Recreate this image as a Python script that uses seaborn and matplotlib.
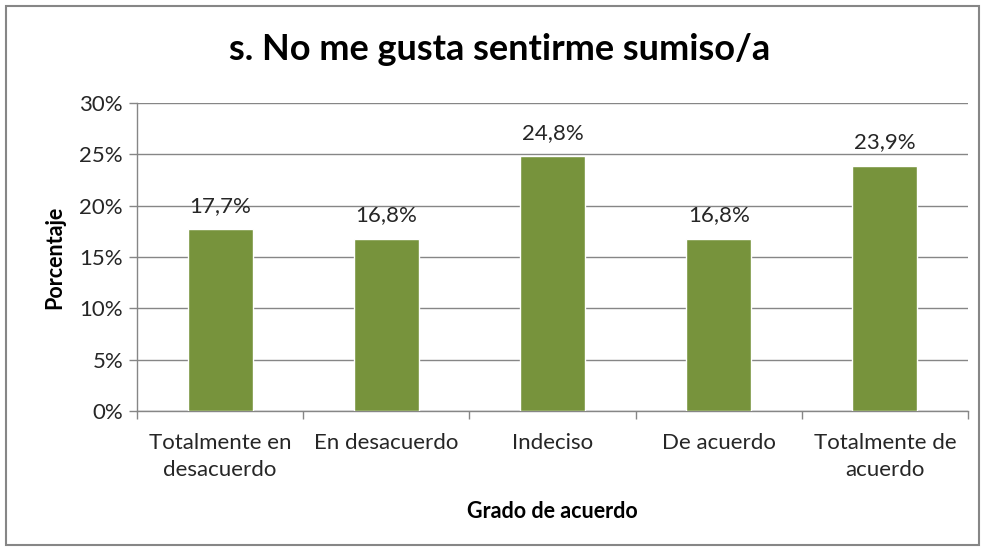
import matplotlib
matplotlib.use("Agg")
import matplotlib.pyplot as plt
import matplotlib.patches as mpatches
import seaborn as sns
import pandas as pd
import numpy as np
from matplotlib.ticker import FixedLocator

categories = ["Totalmente en\ndesacuerdo", "En desacuerdo", "Indeciso", "De acuerdo", "Totalmente de\nacuerdo"]
values = [17.7, 16.8, 24.8, 16.8, 23.9]
value_labels = ["17,7%", "16,8%", "24,8%", "16,8%", "23,9%"]
yticks = [0, 5, 10, 15, 20, 25, 30]
ytick_labels = ["0%", "5%", "10%", "15%", "20%", "25%", "30%"]

sns.set_style("white")
plt.rcParams["font.family"] = ["Lato", "DejaVu Sans"]

df = pd.DataFrame({"cat": categories, "val": values})

fig = plt.figure(figsize=(9.85, 5.49), dpi=100)
ax = fig.add_axes([137/985, 1-411/549, (968-137)/985, (411-103)/549])

sns.barplot(data=df, x="cat", y="val", color="#77933C", width=0.39, saturation=1, ax=ax, zorder=3)

ax.set_ylim(0, 30)
ax.set_xlim(-0.5, len(categories) - 0.5)
ax.set_yticks(yticks)
ax.set_yticklabels(ytick_labels)
ax.yaxis.grid(True, color="#868686", linewidth=1, zorder=0)
ax.set_axisbelow(True)

for s in ["top", "right"]:
    ax.spines[s].set_visible(False)
for s in ["left", "bottom"]:
    ax.spines[s].set_color("#868686")
    ax.spines[s].set_linewidth(1)

ax.tick_params(axis="y", which="major", length=6, color="#868686", width=1, labelsize=16, labelcolor="#262626", pad=4, left=True)
ax.tick_params(axis="x", which="major", length=0, labelsize=16, labelcolor="#262626", pad=16)
for t in ax.get_xticklabels():
    t.set_linespacing(1.45)
ax.xaxis.set_minor_locator(FixedLocator(np.arange(-0.5, len(categories), 1.0)))
ax.tick_params(axis="x", which="minor", length=6, color="#868686", width=1, bottom=True)

for i, (v, lab) in enumerate(zip(values, value_labels)):
    ax.annotate(lab, (i, v), xytext=(0, 9.5), textcoords="offset points", ha="center", va="bottom", fontsize=16, color="#262626")

ax.set_xlabel("Grado de acuerdo", fontsize=15.5, fontweight="bold", color="black", labelpad=15)
ax.set_ylabel("Porcentaje", fontsize=15.5, fontweight="bold", color="black", labelpad=10)

fig.text(500/985, 1-50/549, "s. No me gusta sentirme sumiso/a", ha="center", va="center", fontsize=26, fontweight="bold", color="black")

border = mpatches.Rectangle((6/985, 1-545/549), (979-6)/985, (545-6)/549, transform=fig.transFigure, fill=False, edgecolor="#868686", linewidth=1.5)
fig.patches.append(border)

fig.savefig("out.png", dpi=100)
